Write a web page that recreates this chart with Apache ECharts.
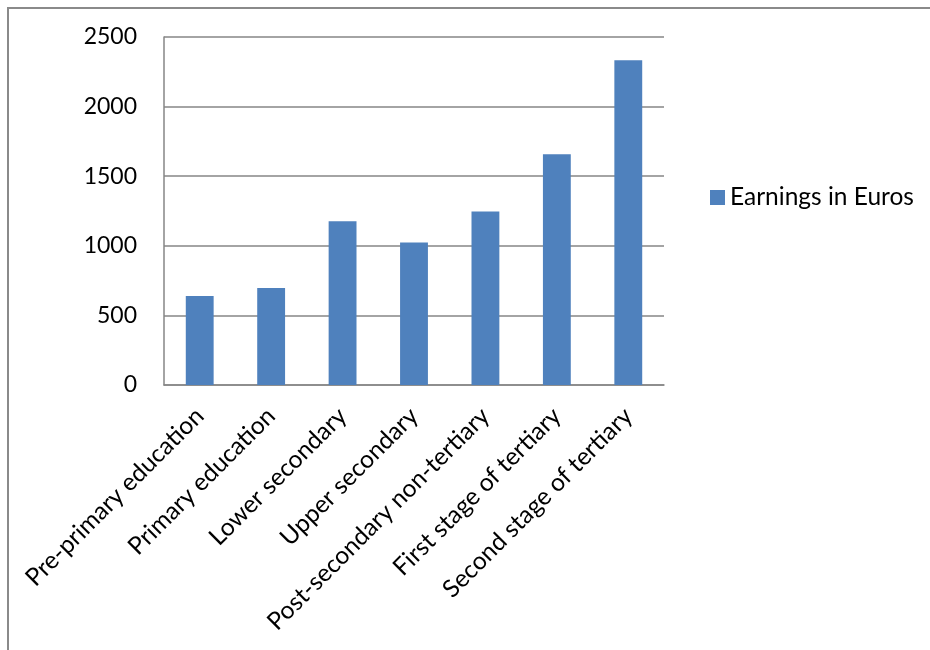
<!DOCTYPE html>
<html>
<head>
<meta charset="utf-8">
<script src="https://cdn.jsdelivr.net/npm/echarts@6/dist/echarts.min.js"></script>
<style>
  html, body { margin: 0; padding: 0; background: #ffffff; }
  #chart { width: 930px; height: 650px; }
</style>
</head>
<body>
<div id="chart"></div>
<script>
// Education levels along the category axis
const categories = [
  'Pre-primary education',
  'Primary education',
  'Lower secondary',
  'Upper secondary',
  'Post-secondary non-tertiary',
  'First stage of tertiary',
  'Second stage of tertiary'
];

// Monthly earnings per level
const seriesName = 'Earnings in Euros';
const earnings = [640, 697, 1177, 1024, 1246, 1657, 2333];

// Value axis range
const yMin = 0;
const yMax = 2500;
const yStep = 500;

const FONT = 'Lato';
const FONT_SIZE = 24.5;
const AXIS_GREY = '#868686';

const chart = echarts.init(document.getElementById('chart'));

chart.setOption({
  animation: false,
  textStyle: { fontFamily: FONT, color: '#000' },
  graphic: [{
    type: 'rect',
    shape: { x: 8, y: 8, width: 940, height: 660 },
    style: { fill: 'none', stroke: '#8a8a8a', lineWidth: 2 },
    silent: true
  }],
  grid: { left: 164, right: 266, top: 37, bottom: 265 },
  legend: {
    show: true,
    data: [seriesName],
    left: 705,
    top: 180,
    itemWidth: 15,
    itemHeight: 15,
    icon: 'rect',
    textStyle: { fontFamily: FONT, fontSize: FONT_SIZE, color: '#000' }
  },
  xAxis: {
    type: 'category',
    data: categories,
    axisLine: { show: true, lineStyle: { color: AXIS_GREY, width: 1.5 } },
    axisTick: { show: false },
    axisLabel: {
      rotate: 45,
      interval: 0,
      margin: 27,
      fontFamily: FONT,
      fontSize: FONT_SIZE,
      color: '#000'
    }
  },
  yAxis: {
    type: 'value',
    min: yMin,
    max: yMax,
    interval: yStep,
    axisLine: { show: true, lineStyle: { color: AXIS_GREY, width: 1.5 } },
    axisTick: { show: false },
    splitLine: { show: true, lineStyle: { color: AXIS_GREY, width: 1.5 } },
    axisLabel: {
      margin: 27,
      fontFamily: FONT,
      fontSize: 23,
      color: '#000',
      formatter: (v) => String(v)
    }
  },
  series: [{
    name: seriesName,
    type: 'bar',
    data: earnings,
    barWidth: '39%',
    itemStyle: { color: '#4F81BD' }
  }]
});
</script>
</body>
</html>
